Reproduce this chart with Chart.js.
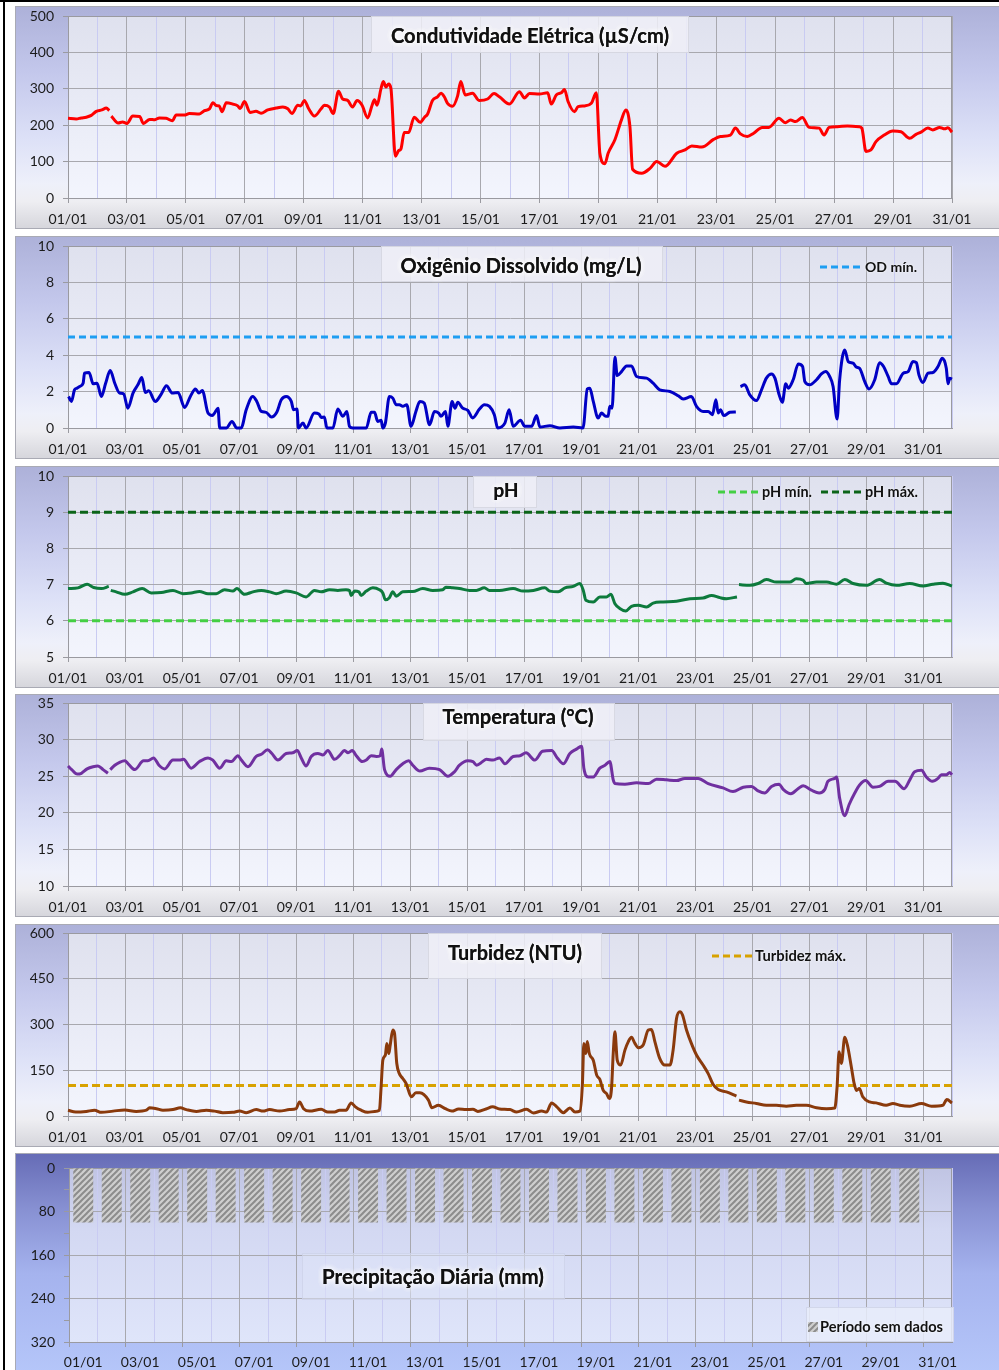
<!DOCTYPE html>
<html><head><meta charset="utf-8">
<script src="https://cdn.jsdelivr.net/npm/chart.js@4.4.1/dist/chart.umd.min.js"></script>
<style>
html,body{margin:0;padding:0;background:#fff;}
body{width:999px;height:1370px;position:relative;overflow:hidden;}
.frameL{position:absolute;left:3px;top:0;width:2px;height:1370px;background:#000;}
.frameT{position:absolute;left:0;top:0;width:999px;height:2px;background:#000;}
.panel{position:absolute;left:15px;width:990px;box-sizing:border-box;border:1px solid #a9aab4;}
.std{background:linear-gradient(to bottom,#adb1d9 0%,#c4c8ec 30%,#dde1f7 60%,#eef0fa 80%,#eeeef2 88%,#d6d6dc 100%);}
.rain{background:linear-gradient(to bottom,#666cb6 0%,#8790d2 25%,#a5b3ee 55%,#b5c6f9 100%);}
canvas{position:absolute;left:15px;}
</style></head>
<body>
<div class="frameT"></div><div class="frameL"></div>
<div class="panel std" style="top:6px;height:223px"></div>
<div class="panel std" style="top:236px;height:223px"></div>
<div class="panel std" style="top:466px;height:222px"></div>
<div class="panel std" style="top:694px;height:223px"></div>
<div class="panel std" style="top:924px;height:223px"></div>
<div class="panel rain" style="top:1153px;height:220px"></div>
<canvas id="c1" width="984" height="223" style="top:6px"></canvas>
<canvas id="c2" width="984" height="223" style="top:236px"></canvas>
<canvas id="c3" width="984" height="222" style="top:466px"></canvas>
<canvas id="c4" width="984" height="223" style="top:694px"></canvas>
<canvas id="c5" width="984" height="223" style="top:924px"></canvas>
<canvas id="c6" width="984" height="217" style="top:1153px"></canvas>
<script>
// ---------- DATA ----------
const dayLabels = ['01/01','02/01','03/01','04/01','05/01','06/01','07/01','08/01','09/01','10/01','11/01','12/01','13/01','14/01','15/01','16/01','17/01','18/01','19/01','20/01','21/01','22/01','23/01','24/01','25/01','26/01','27/01','28/01','29/01','30/01','31/01'];

const condDay = [1,1.28,1.45,1.62,1.79,1.96,2.15,2.3,2.4,2.44,2.47,2.7,2.85,3.0,3.2,3.43,3.56,3.77,3.95,4.1,4.33,4.54,4.67,4.95,5.12,5.46,5.63,5.8,5.92,6.03,6.13,6.23,6.37,6.6,6.76,6.84,6.99,7.18,7.38,7.55,7.78,8.06,8.29,8.46,8.6,8.8,8.9,9.02,9.17,9.36,9.59,9.7,9.87,10.0,10.18,10.32,10.49,10.66,10.81,10.98,11.17,11.32,11.4,11.49,11.62,11.7,11.79,11.88,11.96,12.11,12.22,12.3,12.41,12.56,12.75,12.95,13.1,13.2,13.37,13.54,13.66,13.77,13.88,14.05,14.22,14.33,14.48,14.73,14.95,15.24,15.46,15.64,15.98,16.32,16.49,16.66,17.0,17.28,17.4,17.57,17.74,17.85,17.97,18.19,18.31,18.53,18.76,18.93,19.05,19.22,19.33,19.56,19.78,19.93,20.07,20.16,20.47,20.76,20.98,21.26,21.66,21.94,22.17,22.51,22.91,23.14,23.48,23.65,23.82,24.05,24.27,24.56,24.78,25.13,25.34,25.52,25.69,25.92,26.15,26.49,26.66,26.83,27.11,27.45,27.85,27.94,28.08,28.25,28.42,28.7,28.99,29.27,29.56,29.78,29.95,30.18,30.35,30.58,30.75,30.86,31.0];
const condVal = [219,217,220,222,227,238,242,247,240,null,225,206,209,205,225,224,205,216,215,220,219,212,228,228,232,231,240,245,262,254,253,237,262,258,253,246,265,235,238,233,242,247,250,245,232,255,253,268,245,225,245,255,250,232,293,272,268,250,268,255,220,255,270,255,300,320,305,313,300,115,130,135,180,180,222,208,222,230,268,278,288,278,260,252,280,320,283,288,268,272,287,278,258,292,275,287,286,289,258,283,289,298,265,237,251,253,260,289,123,94,123,160,214,242,196,79,68,82,100,87,123,132,143,140,161,169,173,192,176,169,178,194,194,219,207,214,210,221,194,192,173,194,196,198,196,192,128,132,155,173,184,182,164,175,181,192,187,194,190,193,181];

const odDay = [1.02,1.12,1.23,1.32,1.41,1.53,1.58,1.74,1.88,2.02,2.17,2.32,2.48,2.64,2.81,2.95,3.1,3.28,3.45,3.59,3.71,3.83,4.06,4.27,4.45,4.66,4.86,5.09,5.29,5.47,5.59,5.71,5.91,6.06,6.14,6.26,6.32,6.55,6.75,6.92,7.07,7.25,7.48,7.62,7.78,7.95,8.13,8.32,8.48,8.65,8.83,8.91,9.03,9.08,9.24,9.35,9.64,9.8,9.88,9.99,10.08,10.29,10.46,10.64,10.78,10.87,10.99,11.46,11.63,11.75,11.86,11.98,12.04,12.13,12.27,12.39,12.51,12.62,12.74,12.88,13.03,13.2,13.34,13.49,13.68,13.85,14.0,14.08,14.24,14.32,14.47,14.57,14.67,14.84,15.02,15.19,15.43,15.6,15.78,15.95,16.07,16.32,16.47,16.61,16.87,17.02,17.26,17.43,17.55,17.9,18.25,18.72,19.06,19.21,19.3,19.42,19.59,19.71,19.86,19.94,20.0,20.08,20.18,20.26,20.41,20.59,20.76,20.94,21.29,21.52,21.75,22.11,22.4,22.57,22.86,23.04,23.27,23.45,23.6,23.72,23.8,23.88,24.0,24.21,24.42,24.5,24.58,24.73,24.91,25.14,25.32,25.49,25.67,25.79,25.94,26.05,26.17,26.26,26.43,26.61,26.76,26.84,27.01,27.25,27.42,27.57,27.71,27.83,27.97,28.06,28.24,28.36,28.53,28.65,28.76,28.94,29.09,29.29,29.46,29.6,29.76,29.88,30.05,30.29,30.46,30.63,30.75,30.84,30.98,31.16,31.33,31.51,31.66,31.8,31.86,31.92,32.0];
const odVal = [1.73,1.46,2.1,2.19,2.28,2.46,3.01,3.05,2.43,2.46,1.73,2.46,3.16,2.46,1.92,1.88,1.09,1.92,2.37,2.77,1.95,2.04,1.46,1.86,2.32,1.92,1.95,1.13,1.73,2.14,1.92,2.06,0.82,0.69,0.82,1.09,0,0,0.36,0,0,1.0,1.73,1.46,0.91,0.86,0.6,0.86,1.55,1.73,1.46,1.0,1.04,0,0.27,0,0.82,0.77,0.58,0.6,0,0,1.04,0.64,0.91,0.09,0,0,0.86,0.86,0.36,0.42,0,0.27,1.73,1.64,1.28,1.28,1.19,1.28,0.09,0.91,1.46,1.37,0.18,0.91,0.82,0.64,0.91,0.09,1.46,1.09,1.41,1.09,0.97,0.55,1.04,1.28,1.19,0.73,0,0.27,1.0,0.09,0.42,0.09,0.09,0.69,0.05,0.13,0,0.05,0,2.14,2.19,1.46,0.55,0.82,0.64,0.64,1.19,1.09,3.89,2.88,3.1,3.41,3.41,2.83,2.74,2.46,2.1,2.01,1.77,1.59,1.73,1.19,0.91,0.91,0.73,1.55,0.82,1.0,0.68,0.86,0.88,null,2.28,2.37,1.82,1.51,2.1,2.74,2.97,2.74,1.82,1.41,2.43,2.19,2.65,3.52,3.38,2.55,2.37,2.65,2.97,3.1,2.83,2.28,0.49,2.65,4.29,3.65,3.56,3.34,3.28,2.55,2.14,2.65,3.59,3.38,2.83,2.43,2.43,3.01,3.1,3.65,3.59,2.92,2.5,3.01,3.05,3.38,3.83,3.28,2.43,2.74,2.68];
const odMin = 5;

const phDay = [1.0,1.35,1.67,1.9,2.17,2.43,2.47,2.5,2.69,2.99,3.28,3.6,3.92,4.27,4.68,5.03,5.32,5.61,5.91,6.2,6.49,6.78,6.92,7.19,7.48,7.78,8.07,8.3,8.65,9.0,9.35,9.64,9.88,10.17,10.46,10.75,10.87,10.93,11.05,11.2,11.28,11.46,11.69,11.92,12.04,12.13,12.27,12.39,12.51,12.74,13.09,13.44,13.79,14.14,14.25,14.49,14.73,15.08,15.32,15.6,15.78,16.13,16.61,16.96,17.32,17.72,17.9,18.19,18.43,18.72,18.95,19.07,19.16,19.42,19.65,19.88,20.04,20.18,20.35,20.56,20.76,21.0,21.29,21.52,21.87,22.34,22.81,23.27,23.57,23.86,24.09,24.46,24.5,24.53,24.91,25.2,25.49,25.84,26.31,26.54,26.78,26.89,27.25,27.6,27.95,28.24,28.53,29.0,29.46,29.7,30.05,30.52,30.98,31.33,31.68,32.0];
const phVal = [6.89,6.91,7.01,6.92,6.89,6.95,null,6.84,6.8,6.73,6.8,6.89,6.77,6.78,6.84,6.75,6.77,6.81,6.75,6.75,6.86,6.82,6.89,6.73,6.8,6.84,6.8,6.75,6.82,6.77,6.66,6.84,6.8,6.86,6.84,6.86,6.84,6.7,6.82,6.8,6.7,6.82,6.91,6.86,6.77,6.58,6.64,6.8,6.68,6.8,6.81,6.89,6.84,6.86,6.93,6.91,6.89,6.84,6.84,6.91,6.84,6.84,6.89,6.82,6.84,6.91,6.82,6.8,6.91,6.95,7.03,6.84,6.57,6.52,6.66,6.66,6.73,6.47,6.34,6.27,6.4,6.43,6.38,6.49,6.52,6.54,6.61,6.63,6.7,6.64,6.61,6.66,null,7.0,6.98,7.03,7.14,7.07,7.07,7.16,7.12,7.03,7.07,7.07,7.01,7.14,7.03,6.98,7.14,7.04,6.98,7.03,6.96,7.01,7.04,6.96];
const phMin = 6;
const phMax = 9;

const tempDay = [1.0,1.13,1.32,1.47,1.67,1.88,2.05,2.23,2.4,2.44,2.48,2.64,2.81,2.99,3.11,3.34,3.65,3.8,4.0,4.19,4.39,4.68,4.91,5.05,5.32,5.61,5.91,6.08,6.32,6.55,6.73,6.96,7.08,7.31,7.6,7.78,8.0,8.15,8.36,8.65,8.88,9.04,9.18,9.35,9.53,9.76,9.94,10.11,10.35,10.52,10.7,10.82,10.97,11.11,11.32,11.46,11.63,11.81,11.95,12.0,12.1,12.3,12.51,12.74,12.95,13.09,13.34,13.67,14.03,14.32,14.55,14.73,15.02,15.2,15.33,15.54,15.67,15.9,16.13,16.32,16.61,16.85,17.06,17.37,17.64,17.96,18.16,18.37,18.6,18.83,19.01,19.09,19.24,19.42,19.65,19.83,20.0,20.12,20.18,20.53,20.94,21.35,21.64,21.99,22.34,22.63,23.1,23.45,23.97,24.32,24.68,24.97,25.2,25.43,25.67,25.94,26.08,26.35,26.6,26.78,27.07,27.34,27.54,27.65,27.89,27.95,28.06,28.24,28.39,28.59,28.76,28.97,29.23,29.46,29.76,30.0,30.32,30.52,30.69,30.93,31.1,31.31,31.51,31.63,31.8,31.92,32.0];
const tempVal = [26.4,25.9,25.3,25.4,26.0,26.3,26.4,25.9,25.4,null,25.9,26.5,26.9,27.1,26.7,25.9,27.1,27.1,27.5,26.5,26.0,27.2,27.2,27.3,26.1,27.0,27.5,27.2,26.1,27.1,27.0,27.8,27.2,26.3,27.7,28.0,28.6,28.1,27.2,28.1,28.2,28.5,27.5,26.4,27.7,28.1,27.9,28.5,27.3,27.8,28.5,28.2,28.5,27.8,27.0,27.2,27.8,27.7,27.8,28.7,25.9,25.0,25.9,26.7,27.1,26.5,25.7,26.1,25.9,25.0,25.6,26.5,27.1,27.0,26.5,27.0,27.3,27.2,27.5,26.7,27.7,27.8,28.2,27.2,28.4,28.5,27.5,26.7,28.1,28.7,29.1,26.1,24.9,24.9,26.1,26.5,27.0,24.5,24.0,23.9,24.1,24.0,24.6,24.5,24.4,24.7,24.7,24.0,23.4,22.9,23.5,23.6,23.0,22.7,23.6,23.9,23.2,22.6,23.3,23.7,23.1,22.7,23.2,24.3,24.7,24.9,22.0,19.6,21.1,22.7,23.8,24.4,23.5,23.6,24.3,24.3,23.3,24.5,25.6,25.8,24.9,24.3,24.7,25.2,25.2,25.5,25.2];

const turbDay = [1.0,1.27,1.64,1.93,2.17,2.58,2.99,3.39,3.75,3.86,4.1,4.33,4.68,4.94,5.15,5.5,5.85,6.14,6.43,6.78,7.02,7.25,7.6,7.84,8.07,8.42,8.77,9.0,9.12,9.26,9.47,9.88,10.11,10.35,10.52,10.75,10.93,11.08,11.28,11.51,11.75,11.92,11.98,12.04,12.13,12.18,12.25,12.3,12.39,12.45,12.53,12.62,12.74,12.86,13.04,13.2,13.34,13.64,13.76,13.99,14.23,14.46,14.7,14.96,15.2,15.37,15.66,15.89,16.13,16.5,16.73,17.08,17.32,17.61,17.78,17.96,18.14,18.37,18.6,18.78,18.95,19.04,19.09,19.16,19.21,19.28,19.42,19.54,19.65,19.77,19.89,19.98,20.06,20.12,20.18,20.26,20.38,20.53,20.65,20.76,20.88,21.0,21.17,21.35,21.46,21.58,21.75,21.93,22.11,22.22,22.34,22.46,22.55,22.69,22.86,23.04,23.27,23.45,23.62,23.8,24.09,24.44,24.49,24.53,24.79,25.14,25.49,25.84,26.19,26.54,26.89,27.25,27.6,27.89,27.97,28.04,28.12,28.24,28.33,28.47,28.57,28.65,28.75,28.87,29.11,29.34,29.69,29.93,30.17,30.52,30.93,31.28,31.68,31.82,32.0];
const turbVal = [19,13,15,19,12,16,20,15,19,27,24,19,21,27,21,15,19,16,11,12,16,11,21,16,21,16,21,24,46,24,16,22,13,13,19,19,43,30,19,12,15,19,95,183,200,238,205,233,282,271,172,139,123,106,63,76,76,52,27,35,24,16,23,21,22,15,23,30,23,21,13,22,10,16,13,43,30,11,26,13,16,106,238,205,244,205,183,134,120,84,73,57,90,205,276,183,167,216,244,258,238,224,233,282,284,244,189,167,167,216,320,342,331,282,238,200,167,139,104,87,79,65,null,52,46,41,35,35,32,35,35,27,24,26,95,211,172,258,233,161,106,84,90,63,46,43,35,41,35,32,41,32,35,54,43];
const turbMax = 100;

const rainNoData = [100,100,100,100,100,100,100,100,100,100,100,100,100,100,100,100,100,100,100,100,100,100,100,100,100,100,100,100,100,100,null];

// ---------- STYLE / HELPERS ----------
Chart.defaults.font.family = 'Lato, "Liberation Sans", sans-serif';
Chart.defaults.font.size = 14;
Chart.defaults.color = '#1b1b1b';
const GRID = '#a8a8ae', MINOR = '#c9cbf2', AXIS = '#9a9aa0';

const pts = (xs, ys) => xs.map((x, i) => ({x: x, y: ys[i]}));
const flat = (v, x0, x1) => [{x: x0, y: v}, {x: x1, y: v}];
const dayTick = v => (Number.isInteger(v) && v % 2 === 1 && v <= 31) ? dayLabels[v - 1] : '';

function fitFont(ctx, text, w, weight) {
  ctx.font = weight + ' 20px Lato, "Liberation Sans", sans-serif';
  const m = ctx.measureText(text).width;
  const s = 20 * w / m;
  ctx.font = weight + ' ' + s.toFixed(2) + 'px Lato, "Liberation Sans", sans-serif';
}

const decoCfg = {};
const deco = {
  id: 'deco',
  beforeDraw(chart) {
    const c = decoCfg[chart.canvas.id]; if (!c) return;
    const {ctx, chartArea: a} = chart;
    const g = ctx.createLinearGradient(0, a.top, 0, a.bottom);
    c.bg.forEach(s => g.addColorStop(s[0], s[1]));
    ctx.save(); ctx.fillStyle = g; ctx.fillRect(a.left, a.top, a.right - a.left, a.bottom - a.top); ctx.restore();
  },
  beforeDatasetsDraw(chart) {
    const c = decoCfg[chart.canvas.id]; if (!c) return;
    const {ctx, chartArea: a} = chart;
    ctx.save();
    ctx.strokeStyle = AXIS; ctx.lineWidth = 1;
    ctx.strokeRect(Math.round(a.left) + 0.5, Math.round(a.top) + 0.5, Math.round(a.right - a.left) - 1, Math.round(a.bottom - a.top));
    (c.boxes || []).forEach(b => {
      ctx.fillStyle = b.fill; ctx.fillRect(b.x - c.ox, b.y - c.oy, b.w, b.h);
      ctx.strokeStyle = b.stroke; ctx.strokeRect(b.x - c.ox + 0.5, b.y - c.oy + 0.5, b.w - 1, b.h - 1);
    });
    ctx.restore();
  },
  afterDatasetsDraw(chart) {
    const c = decoCfg[chart.canvas.id]; if (!c) return;
    const ctx = chart.ctx;
    ctx.save();
    const t = c.title;
    fitFont(ctx, t.text, t.w, 'bold');
    ctx.textAlign = 'center'; ctx.textBaseline = 'middle';
    ctx.shadowColor = 'rgba(255,255,255,1)'; ctx.shadowBlur = 6;
    ctx.fillStyle = '#111';
    for (let k = 0; k < 3; k++) ctx.fillText(t.text, t.cx - c.ox, t.cy - c.oy);
    ctx.shadowBlur = 0;
    (c.legend || []).forEach(l => {
      if (l.dash) {
        ctx.strokeStyle = l.color; ctx.lineWidth = 3; ctx.setLineDash([7, 4]);
        ctx.beginPath(); ctx.moveTo(l.x1 - c.ox, l.y - c.oy); ctx.lineTo(l.x2 - c.ox, l.y - c.oy); ctx.stroke();
        ctx.setLineDash([]);
      }
      if (l.swatch) {
        ctx.fillStyle = l.swatch; ctx.fillRect(l.x1 - c.ox, l.y - c.oy - 5, 10, 10);
      }
      fitFont(ctx, l.text, l.tw, 'bold');
      ctx.textAlign = 'left'; ctx.textBaseline = 'middle'; ctx.fillStyle = '#111';
      ctx.shadowColor = 'rgba(255,255,255,0.9)'; ctx.shadowBlur = 3;
      ctx.fillText(l.text, l.tx - c.ox, l.y - c.oy);
      ctx.shadowBlur = 0;
    });
    ctx.restore();
  }
};
Chart.register(deco);

const plotBg = [[0, '#dfe1ee'], [0.5, '#e9ebf6'], [1, '#f3f5fd']];
const titleBox = (x, y, w, h) => ({x: x, y: y, w: w, h: h, fill: 'rgba(238,239,247,0.85)', stroke: 'rgba(210,211,222,0.8)'});

function lineChart(id, g, xMax, yMin, yMax, yStep, datasets) {
  return new Chart(document.getElementById(id), {
    type: 'line',
    data: {datasets: datasets},
    options: {
      responsive: false, animation: false, devicePixelRatio: 1,
      layout: {padding: {top: g.pt - g.top, right: 47, left: 0, bottom: 0}},
      plugins: {legend: {display: false}, tooltip: {enabled: false}},
      elements: {point: {radius: 0}, line: {borderWidth: 3}},
      scales: {
        x: {
          type: 'linear', min: 1, max: xMax,
          afterFit: s => { s.height = g.top + g.h - g.pb; s.paddingLeft = 0; s.paddingRight = 0; },
          ticks: {stepSize: 1, autoSkip: false, maxRotation: 0, minRotation: 0, padding: 8, callback: v => dayTick(v)},
          grid: {color: c => (c.tick && c.tick.value % 2 === 1) ? GRID : MINOR, tickColor: c => (c.tick && c.tick.value % 2 === 1 && c.tick.value <= 31) ? AXIS : 'rgba(0,0,0,0)', tickLength: 5},
          border: {color: AXIS}
        },
        y: {
          min: yMin, max: yMax,
          afterFit: s => { s.width = 53; s.paddingTop = 0; s.paddingBottom = 0; },
          ticks: {stepSize: yStep, padding: 9},
          grid: {color: GRID, tickColor: AXIS, tickLength: 5},
          border: {color: AXIS}
        }
      }
    }
  });
}
const ser = (data, color, dash) => ({data: data, borderColor: color, borderWidth: 3, pointRadius: 0, borderDash: dash || [], cubicInterpolationMode: 'monotone', spanGaps: false, clip: 6});

// ---------- PANEL 1: Condutividade ----------
decoCfg.c1 = {ox: 15, oy: 6, bg: plotBg, boxes: [titleBox(371, 16, 318, 37)],
  title: {text: 'Condutividade Elétrica (µS/cm)', cx: 530, cy: 37, w: 278}};
lineChart('c1', {top: 6, h: 223, pt: 16, pb: 198}, 31, 0, 500, 100, [ser(pts(condDay, condVal), '#ff0000')]);

// ---------- PANEL 2: OD ----------
decoCfg.c2 = {ox: 15, oy: 236, bg: plotBg, boxes: [titleBox(381, 246, 282, 36)],
  title: {text: 'Oxigênio Dissolvido (mg/L)', cx: 521, cy: 267, w: 241},
  legend: [{dash: true, color: '#1e9ef2', x1: 820, x2: 862, y: 267, text: 'OD mín.', tx: 865, tw: 52}]};
lineChart('c2', {top: 236, h: 223, pt: 246, pb: 428}, 32, 0, 10, 2, [
  ser(pts(odDay, odVal), '#0000c4'),
  ser(flat(odMin, 1, 32), '#1e9ef2', [7, 4])
]);

// ---------- PANEL 3: pH ----------
decoCfg.c3 = {ox: 15, oy: 466, bg: plotBg, boxes: [titleBox(473, 476, 64, 32)],
  title: {text: 'pH', cx: 506, cy: 491, w: 25},
  legend: [
    {dash: true, color: '#44cf44', x1: 718, x2: 760, y: 492, text: 'pH mín.', tx: 762, tw: 50},
    {dash: true, color: '#0b6418', x1: 821, x2: 862, y: 492, text: 'pH máx.', tx: 865, tw: 53}
  ]};
lineChart('c3', {top: 466, h: 222, pt: 476, pb: 657}, 32, 5, 10, 1, [
  ser(pts(phDay, phVal), '#0d7a3c'),
  ser(flat(phMin, 1, 32), '#44cf44', [8, 4]),
  ser(flat(phMax, 1, 32), '#0b6418', [8, 4])
]);

// ---------- PANEL 4: Temperatura ----------
decoCfg.c4 = {ox: 15, oy: 694, bg: plotBg, boxes: [titleBox(423, 703, 192, 38)],
  title: {text: 'Temperatura (°C)', cx: 518, cy: 718, w: 151}};
lineChart('c4', {top: 694, h: 223, pt: 703, pb: 886}, 32, 10, 35, 5, [ser(pts(tempDay, tempVal), '#7030a0')]);

// ---------- PANEL 5: Turbidez ----------
decoCfg.c5 = {ox: 15, oy: 924, bg: plotBg, boxes: [titleBox(428, 933, 174, 46)],
  title: {text: 'Turbidez (NTU)', cx: 515, cy: 954, w: 134},
  legend: [{dash: true, color: '#d8a200', x1: 712, x2: 752, y: 956, text: 'Turbidez máx.', tx: 755, tw: 91}]};
lineChart('c5', {top: 924, h: 223, pt: 933, pb: 1116}, 32, 0, 600, 150, [
  ser(pts(turbDay, turbVal), '#8a3a0c'),
  ser(flat(turbMax, 1, 32), '#d8a200', [8, 4])
]);

// ---------- PANEL 6: Precipitação ----------
function hatch() {
  const p = document.createElement('canvas'); p.width = 6; p.height = 6;
  const x = p.getContext('2d');
  x.fillStyle = '#cfcfcf'; x.fillRect(0, 0, 6, 6);
  x.strokeStyle = '#8c8c8c'; x.lineWidth = 2;
  [-6, 0, 6].forEach(o => { x.beginPath(); x.moveTo(o - 1, 7); x.lineTo(o + 7, -1); x.stroke(); });
  return document.getElementById('c6').getContext('2d').createPattern(p, 'repeat');
}
const hatchPat = hatch();
decoCfg.c6 = {ox: 15, oy: 1153, bg: [[0, '#c0c4e3'], [0.35, '#d3d8f2'], [1, '#dfe5fa']],
  boxes: [{x: 302, y: 1253, w: 263, h: 47, fill: 'rgba(222,227,247,0.55)', stroke: 'rgba(200,205,228,0.6)'},
          {x: 806, y: 1307, w: 148, h: 35, fill: 'rgba(232,236,250,0.85)', stroke: 'rgba(205,210,230,0.8)'}],
  title: {text: 'Precipitação Diária (mm)', cx: 433, cy: 1277, w: 222},
  legend: [{swatch: hatchPat, x1: 808, y: 1327, text: 'Período sem dados', tx: 820, tw: 123}]};
new Chart(document.getElementById('c6'), {
  type: 'bar',
  data: {labels: dayLabels, datasets: [{data: rainNoData, backgroundColor: hatchPat, borderWidth: 0, barPercentage: 0.7, categoryPercentage: 1}]},
  options: {
    responsive: false, animation: false, devicePixelRatio: 1,
    layout: {padding: {top: 15, right: 47, left: 0, bottom: 0}},
    plugins: {legend: {display: false}, tooltip: {enabled: false}},
    scales: {
      x: {
        offset: true,
        afterFit: s => { s.height = 1370 - 1342; s.paddingLeft = 0; s.paddingRight = 0; },
        ticks: {autoSkip: false, maxRotation: 0, minRotation: 0, padding: 7, callback: (v, i) => i % 2 === 0 ? dayLabels[i] : ''},
        grid: {offset: true, color: c => c.index % 2 === 0 ? GRID : MINOR, tickColor: c => c.index % 2 === 0 ? AXIS : 'rgba(0,0,0,0)', tickLength: 5},
        border: {color: AXIS}
      },
      y: {
        reverse: true, min: 0, max: 320,
        afterFit: s => { s.width = 54; s.paddingTop = 0; s.paddingBottom = 0; },
        ticks: {stepSize: 40, padding: 9, callback: v => v % 80 === 0 ? v : ''},
        grid: {color: c => (c.tick && c.tick.value % 80 === 0) ? GRID : 'rgba(0,0,0,0)', tickColor: AXIS, tickLength: 5},
        border: {color: AXIS}
      }
    }
  }
});
</script>
</body></html>
